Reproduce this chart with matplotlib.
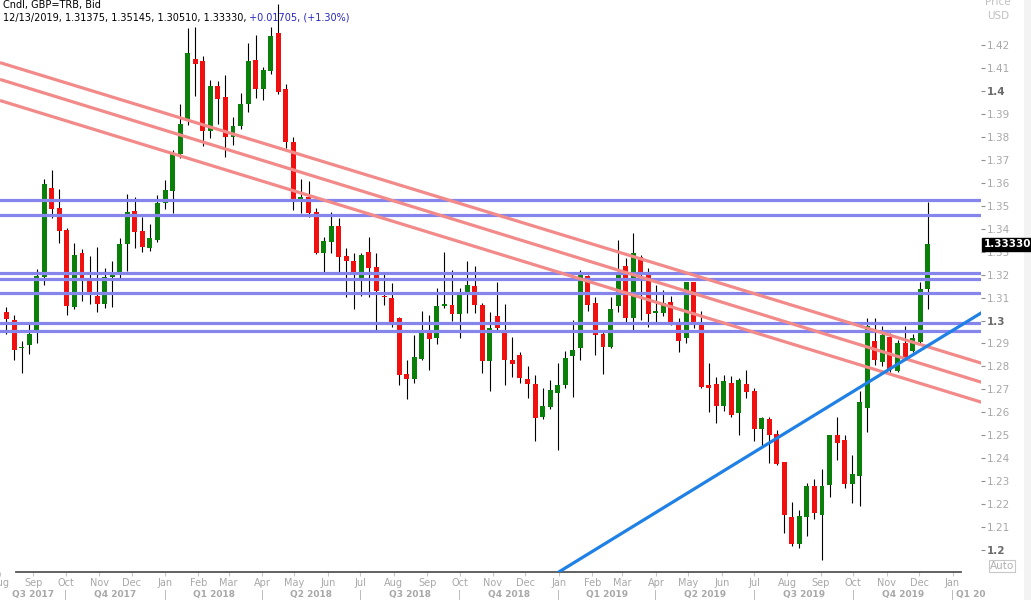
import numpy as np
import pandas as pd
import matplotlib
matplotlib.use("Agg")
import matplotlib.pyplot as plt
import matplotlib.dates as mdates
from matplotlib.patches import Rectangle

# Weekly GBP/USD candles (week start dates)
weeks = pd.date_range("2017-08-07", periods=123, freq="7D")

opens = [1.3037, 1.3002, 1.2880, 1.2893, 1.2950, 1.3190, 1.3577, 1.3490, 1.3394, 1.3059,
         1.3294, 1.3185, 1.3107, 1.3072, 1.3190, 1.3211, 1.3333, 1.3477, 1.3390, 1.3316,
         1.3351, 1.3512, 1.3564, 1.3725, 1.3878, 1.4139, 1.4131, 1.3826, 1.4022, 1.3974,
         1.3800, 1.3847, 1.3943, 1.4135, 1.4009, 1.4087, 1.4253, 1.4009, 1.3778, 1.3525,
         1.3538, 1.3473, 1.3294, 1.3342, 1.3412, 1.3281, 1.3259, 1.3181, 1.3298, 1.3233,
         1.3107, 1.3098, 1.3011, 1.2767, 1.2745, 1.2832, 1.2954, 1.2924, 1.3063, 1.3068,
         1.3028, 1.3120, 1.3150, 1.3068, 1.2824, 1.3020, 1.2946, 1.2828, 1.2850, 1.2745,
         1.2723, 1.2580, 1.2623, 1.2684, 1.2719, 1.2845, 1.2880, 1.3194, 1.3076, 1.2941,
         1.2885, 1.3063, 1.3237, 1.3011, 1.3277, 1.3198, 1.3033, 1.3033, 1.3081, 1.2993,
         1.2924, 1.3168, 1.2993, 1.2719, 1.2723, 1.2627, 1.2728, 1.2597, 1.2723, 1.2693,
         1.2527, 1.2571, 1.2505, 1.2383, 1.2144, 1.2026, 1.2144, 1.2279, 1.2153, 1.2283,
         1.2501, 1.2479, 1.2288, 1.2322, 1.2619, 1.2911, 1.2819, 1.2928, 1.2780, 1.2902,
         1.2867, 1.2906, 1.31375]
highs = [1.3059, 1.3024, 1.2911, 1.2993, 1.3224, 1.3617, 1.3656, 1.3573, 1.3403, 1.3338,
         1.3312, 1.3281, 1.3320, 1.3229, 1.3259, 1.3359, 1.3551, 1.3538, 1.3451, 1.3420,
         1.3547, 1.3612, 1.3743, 1.3943, 1.4275, 1.4279, 1.4153, 1.4048, 1.4044, 1.4070,
         1.3887, 1.3991, 1.4209, 1.4244, 1.4105, 1.4279, 1.4379, 1.4031, 1.3800, 1.3617,
         1.3608, 1.3490, 1.3364, 1.3473, 1.3447, 1.3316, 1.3294, 1.3294, 1.3364, 1.3294,
         1.3211, 1.3163, 1.3015, 1.2828, 1.2937, 1.3041, 1.3024, 1.3142, 1.3298, 1.3220,
         1.3142, 1.3259, 1.3237, 1.3076, 1.3037, 1.3168, 1.3072, 1.2928, 1.2863, 1.2802,
         1.2763, 1.2706, 1.2741, 1.2815, 1.2867, 1.3002, 1.3220, 1.3198, 1.3102, 1.2959,
         1.3102, 1.3351, 1.3272, 1.3381, 1.3285, 1.3229, 1.3155, 1.3133, 1.3107, 1.3011,
         1.3168, 1.3168, 1.3041, 1.2815, 1.2754, 1.2763, 1.2758, 1.2749, 1.2784, 1.2706,
         1.2580, 1.2580, 1.2523, 1.2383, 1.2209, 1.2174, 1.2292, 1.2309, 1.2353, 1.2501,
         1.2580, 1.2501, 1.2414, 1.2693, 1.3011, 1.3011, 1.2976, 1.2946, 1.2915, 1.2976,
         1.2941, 1.3168, 1.35145]
lows = [1.2941, 1.2828, 1.2771, 1.2854, 1.2902, 1.3155, 1.3447, 1.3338, 1.3024, 1.3050,
        1.3085, 1.3072, 1.3037, 1.3055, 1.3059, 1.3181, 1.3216, 1.3316, 1.3298, 1.3303,
        1.3342, 1.3486, 1.3468, 1.3708, 1.3852, 1.3978, 1.3760, 1.3795, 1.3856, 1.3712,
        1.3765, 1.3834, 1.3908, 1.3970, 1.3961, 1.4074, 1.3987, 1.3752, 1.3481, 1.3468,
        1.3451, 1.3290, 1.3211, 1.3294, 1.3211, 1.3102, 1.3050, 1.3107, 1.3102, 1.2954,
        1.3068, 1.2972, 1.2719, 1.2658, 1.2728, 1.2828, 1.2784, 1.2898, 1.3054, 1.2998,
        1.2924, 1.3033, 1.3033, 1.2771, 1.2693, 1.2950, 1.2719, 1.2754, 1.2728, 1.2662,
        1.2475, 1.2571, 1.2614, 1.2436, 1.2706, 1.2667, 1.2828, 1.3041, 1.2850, 1.2767,
        1.2880, 1.3037, 1.2989, 1.2954, 1.3002, 1.2972, 1.2989, 1.3020, 1.2980, 1.2863,
        1.2902, 1.2967, 1.2706, 1.2601, 1.2553, 1.2606, 1.2580, 1.2501, 1.2662, 1.2475,
        1.2449, 1.2379, 1.2370, 1.2074, 1.2017, 1.2009, 1.2061, 1.2135, 1.1956, 1.2231,
        1.2392, 1.2270, 1.2205, 1.2192, 1.2514, 1.2806, 1.2802, 1.2776, 1.2776, 1.2837,
        1.2863, 1.2898, 1.30510]
closes = [1.3007, 1.2871, 1.2885, 1.2941, 1.3194, 1.3595, 1.3486, 1.3390, 1.3063, 1.3285,
          1.3185, 1.3124, 1.3072, 1.3190, 1.3203, 1.3333, 1.3473, 1.3386, 1.3320, 1.3359,
          1.3512, 1.3569, 1.3725, 1.3856, 1.4166, 1.4118, 1.3826, 1.4022, 1.3965, 1.3800,
          1.3847, 1.3943, 1.4131, 1.4009, 1.4092, 1.4240, 1.3996, 1.3778, 1.3525, 1.3538,
          1.3468, 1.3294, 1.3346, 1.3412, 1.3277, 1.3259, 1.3211, 1.3285, 1.3229, 1.3129,
          1.3102, 1.2993, 1.2763, 1.2745, 1.2841, 1.2954, 1.2919, 1.3063, 1.3072, 1.3028,
          1.3120, 1.3155, 1.3068, 1.2824, 1.2967, 1.2967, 1.2828, 1.2810, 1.2749, 1.2723,
          1.2575, 1.2627, 1.2697, 1.2719, 1.2837, 1.2871, 1.3198, 1.3068, 1.2937, 1.2885,
          1.3050, 1.3198, 1.3011, 1.3294, 1.3198, 1.3028, 1.3041, 1.3076, 1.2989, 1.2911,
          1.3168, 1.2993, 1.2710, 1.2706, 1.2627, 1.2736, 1.2588, 1.2741, 1.2688, 1.2527,
          1.2575, 1.2501, 1.2375, 1.2153, 1.2026, 1.2148, 1.2279, 1.2161, 1.2279, 1.2501,
          1.2466, 1.2288, 1.2331, 1.2645, 1.2976, 1.2828, 1.2937, 1.2784, 1.2902, 1.2841,
          1.2924, 1.3137, 1.33330]

# horizontal support / resistance levels
levels = [1.3525, 1.3462, 1.3209, 1.3179, 1.3118, 1.2988, 1.2953]

# falling channel (three parallel lines) and rising trend line
channel_dates = ["2017-08-01", "2020-02-01"]
channel_top = [1.4124, 1.2808]
channel_mid = [1.4051, 1.2725]
channel_low = [1.3959, 1.2638]
trend_dates = ["2019-01-01", "2020-02-01"]
trend_vals = [1.1904, 1.3046]

month_starts = pd.date_range("2017-08-01", "2020-01-01", freq="MS")
quarter_starts = pd.date_range("2017-07-01", "2020-01-01", freq="QS")
quarter_labels = ["Q3 2017", "Q4 2017", "Q1 2018", "Q2 2018", "Q3 2018", "Q4 2018",
                  "Q1 2019", "Q2 2019", "Q3 2019", "Q4 2019", "Q1 20"]

header1 = "Cndl, GBP=TRB, Bid"
header2 = "12/13/2019, 1.31375, 1.35145, 1.30510, 1.33330,"
header3 = " +0.01705, (+1.30%)"
last_price = "1.33330"

plt.rcParams["font.family"] = ["DejaVu Sans"]

W, H = 1031, 600
fig = plt.figure(figsize=(W / 100, H / 100), dpi=100)
ax = fig.add_axes([0, 28 / H, 981 / W, 572 / H])

x = mdates.date2num(weeks)
o = np.array(opens)
hi = np.array(highs)
lo = np.array(lows)
c = np.array(closes)
up = c >= o

ax.vlines(x, lo, hi, color="black", lw=0.8, zorder=2)
body = np.maximum(np.abs(c - o), 0.00025)
ax.bar(x, body, bottom=np.minimum(o, c), width=4.6,
       color=np.where(up, "#0a800a", "#f01010"), zorder=3, linewidth=0)

for lv in levels:
    ax.axhline(lv, color="#8585ec", lw=2.3, zorder=4)

cd = mdates.date2num(pd.to_datetime(channel_dates))
for vals in (channel_top, channel_mid, channel_low):
    ax.plot(cd, vals, color="#f38a8a", lw=2.3, zorder=4, solid_capstyle="butt")
td = mdates.date2num(pd.to_datetime(trend_dates))
ax.plot(td, trend_vals, color="#1f80e6", lw=2.3, zorder=5)

x0 = mdates.date2num(pd.Timestamp("2017-08-07"))
ax.set_xlim(x0 - 4.6, x0 + 903.4)
ax.set_ylim(1.1904, 1.4397)

# axes cosmetics
for s in ("top", "left", "right"):
    ax.spines[s].set_visible(False)
ax.spines["bottom"].set_color("#555555")
ax.spines["bottom"].set_linewidth(1.3)
ax.spines["bottom"].set_bounds(x0 + 9, x0 + 885)

yt = np.round(np.arange(1.20, 1.4201, 0.01), 2)
ax.yaxis.tick_right()
ax.set_yticks(yt)
ax.set_yticklabels([f"{v:g}" for v in yt])
ax.tick_params(axis="y", length=3, width=0.8, color="#909090", pad=1,
               labelsize=7.5, labelcolor="#a8a8a8")
for lbl in ax.get_yticklabels():
    if lbl.get_text() in ("1.2", "1.3", "1.4"):
        lbl.set_fontweight("bold")
        lbl.set_color("#6a6a6a")

mx = mdates.date2num(month_starts)
ax.set_xticks(mx)
ax.set_xticklabels([])
ax.tick_params(axis="x", length=3, width=0.8, color="#c8c8c8")
for m, d in zip(mx, month_starts):
    ax.annotate(d.strftime("%b"), (m, 0), xycoords=("data", "axes fraction"),
                xytext=(0, -11), textcoords="offset pixels", ha="center", va="center",
                fontsize=7, color="#a8a8a8", annotation_clip=False)

qx = mdates.date2num(quarter_starts)
xl, xr = ax.get_xlim()
q_edges = list(qx) + [mdates.date2num(pd.Timestamp("2020-04-01"))]
for i, lab in enumerate(quarter_labels):
    if i > 0:
        ax.annotate("|", (q_edges[i], 0), xycoords=("data", "axes fraction"),
                    xytext=(0, -23), textcoords="offset pixels", ha="center", va="center",
                    fontsize=7, color="#a8a8a8", annotation_clip=False)
    if q_edges[i + 1] > xr:
        # last, partly visible quarter: label starts right after its separator
        ax.annotate(lab, (q_edges[i], 0), xycoords=("data", "axes fraction"),
                    xytext=(3, -23), textcoords="offset pixels", ha="left", va="center",
                    fontsize=6.5, fontweight="bold", color="#a8a8a8", annotation_clip=False)
        continue
    a = max(q_edges[i], xl)
    b = q_edges[i + 1]
    ax.annotate(lab, ((a + b) / 2, 0), xycoords=("data", "axes fraction"),
                xytext=(0, -23), textcoords="offset pixels", ha="center", va="center",
                fontsize=6.5, fontweight="bold", color="#a8a8a8", annotation_clip=False)

# last price marker
ax.annotate(last_price, (1.0, closes[-1]), xycoords=("axes fraction", "data"),
            xytext=(3, 0), textcoords="offset pixels", ha="left", va="center",
            fontsize=7.5, fontweight="bold", color="white", zorder=10,
            annotation_clip=False,
            bbox=dict(boxstyle="square,pad=0.15", fc="black", ec="black"))

# header text
t2 = fig.text(3 / W, 1 - 21 / H, header2, fontsize=7, color="black", va="baseline")
fig.text(3 / W, 1 - 8 / H, header1, fontsize=7, color="black", va="baseline")
fig.canvas.draw()
bb = t2.get_window_extent(fig.canvas.get_renderer())
fig.text(bb.x1 / W, 1 - 21 / H, header3, fontsize=7, color="#2828c0", va="baseline")

# price axis caption and auto button
fig.text(998 / W, 1 - 5 / H, "Price", fontsize=7.5, color="#c0c0c0", ha="center", va="baseline")
fig.text(998 / W, 1 - 19 / H, "USD", fontsize=7.5, color="#c0c0c0", ha="center", va="baseline")
fig.text(1002 / W, 1 - 566 / H, "Auto", fontsize=7.5, color="#b0b0b0", ha="center", va="center",
         bbox=dict(boxstyle="square,pad=0.1", fc="white", ec="#c8c8c8", lw=0.8))
fig.patches.append(Rectangle((1024 / W, 0), 7 / W, 1, transform=fig.transFigure,
                             fc="#f3f3f3", ec="none", zorder=-1))

fig.savefig("out.png", dpi=100)
